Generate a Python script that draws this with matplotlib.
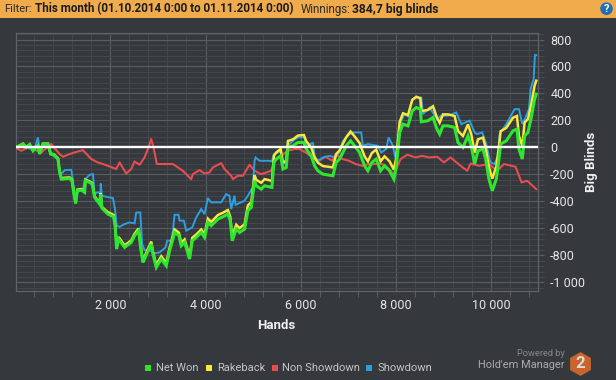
import matplotlib
matplotlib.use("Agg")
import matplotlib.pyplot as plt
from matplotlib.lines import Line2D
from matplotlib.patches import Rectangle, Circle, RegularPolygon
from matplotlib.ticker import FuncFormatter, MultipleLocator

plt.rcParams['font.family'] = ['Roboto', 'DejaVu Sans']

hands_main = [0,95,165,235,305,375,480,515,585,690,746,816,900,935,970,1145,1194,1236,1271,1306,1390,1460,1474,1565,1621,1670,1775,1796,1824,1950,2069,2104,2132,2174,2300,2440,2510,2594,2636,2685,
 2720,2790,2860,2895,2965,3070,3175,3245,3315,3350,3441,3490,3560,3665,3721,3805,3910,3980,4050,4120,4260,4365,4470,4519,4561,4645,4715,4820,4890,4960,5030,5065,5170,5241,
 5395,5437,5486,5577,5626,5696,5731,5836,5941,6067,6116,6221,6291,6361,6466,6676,6746,6816,6886,6956,7047,7131,7236,7341,7411,7495,7586,7677,7761,7866,7957,8006,8078,
 8148,8253,8344,8428,8512,8533,8673,8778,8862,8918,8988,9093,9233,9303,9408,9513,9583,9653,9723,9828,9884,9954,10024,10108,10164,10199,10318,10458,10542,10584,10654,10703,10773,10843,10913,10948]
net_won = [0,12,25,0,20,-25,12,-49,25,25,-49,-54,-86,-185,-235,-230,-247,-346,-415,-321,-316,-333,-247,-259,-272,-370,-420,-346,-450,-494,-514,-593,-753,-679,-741,-704,-654,-617,-741,-852,
 -827,-770,-716,-790,-889,-827,-877,-766,-679,-630,-654,-729,-704,-827,-692,-667,-630,-667,-556,-580,-531,-514,-494,-543,-692,-605,-630,-605,-469,-445,-247,-284,-309,-284,
 -296,-111,-86,-62,-160,-148,0,12,37,37,-12,-62,-136,-173,-198,-210,-111,-86,-37,12,49,12,-37,-136,-173,-111,-86,-173,-136,-173,-235,-148,111,
 173,160,272,296,284,190,198,222,136,99,160,160,148,37,0,86,12,-123,-25,-12,-86,-235,-321,-235,-86,25,49,123,136,-12,-86,86,111,222,358,395]
rakeback = [0,15,28,3,23,-22,15,-46,28,28,-46,-51,-80,-177,-227,-222,-239,-338,-407,-313,-308,-325,-239,-251,-264,-362,-412,-338,-442,-480,-500,-578,-738,-664,-726,-689,-639,-600,-726,-836,
 -810,-752,-698,-772,-869,-806,-856,-744,-657,-608,-632,-707,-682,-805,-670,-645,-608,-643,-528,-552,-501,-484,-464,-513,-660,-573,-598,-570,-430,-405,-205,-240,-262,-235,
 -248,-62,-37,-12,-112,-100,48,60,88,92,45,0,-76,-113,-138,-148,-48,-22,28,76,118,82,33,-66,-103,-41,-16,-103,-66,-103,-165,-78,190,
 253,240,352,376,364,270,278,305,220,183,245,245,233,122,85,171,97,-38,60,73,-1,-145,-231,-143,5,120,145,220,233,85,11,185,210,322,458,495]

hands_blue = [0,200,300,420,480,515,595,690,746,900,935,1005,1040,1180,1215,1264,1320,1425,1474,1565,1635,1670,1726,1796,1797,1824,1915,2055,2104,2132,2195,2300,2405,2510,2545,2628,2670,2719,2859,2929,3034,3160,3195,3279,3314,3349,3433,3454,3545,3594,3720,3804,3909,3980,4049,4119,4329,4434,4504,4539,4609,4630,4819,4889,4994,5030,5051,5135,5345,
 5395,5437,5577,5626,5696,5731,5836,5941,6081,6116,6256,6291,6361,6466,6606,6711,6816,6886,7026,7096,7271,7306,7411,7621,7691,7796,7845,7936,7985,8041,8111,
 8183,8253,8344,8428,8533,8568,8708,8862,8953,9093,9268,9373,9548,9653,9702,9814,9898,9982,10073,10143,10178,10318,10493,10584,10654,10724,10794,10829,10892,10920,10948]
showdown = [0,12,-8,0,74,-25,12,12,-49,-86,-185,-185,-168,-165,-247,-408,-321,-316,-235,-203,-198,-346,-333,-333,-267,-358,-366,-375,-469,-580,-588,-568,-556,-563,-482,-482,-716,-761,-766,-785,-778,-741,-691,-691,-622,-499,-499,-543,-543,-617,-593,-519,-457,-494,-375,-407,-407,-346,-358,-457,-358,-425,-395,-358,-296,-99,-74,-99,-99,
 -104,-49,-30,-123,-111,12,49,74,74,0,37,-62,-99,-74,-62,-74,-37,49,99,111,111,12,25,12,-37,-12,74,12,-74,12,198,
 247,230,358,370,370,247,296,210,235,235,259,173,198,111,99,111,25,-111,-123,-62,99,173,284,284,173,222,284,432,506,684,684]

hands_red = [0,129,269,374,549,759,934,1004,1144,1249,1424,1599,1739,1844,1949,2124,2194,2334,2439,2509,2614,2719,2789,2859,2908,2978,3104,3314,3524,3699,3734,3874,3979,4084,4154,4329,4399,4539,4574,4679,4784,4924,5029,5169,5379,5449,5589,5729,5869,5974,
 6103,6243,6383,6523,6663,6733,6873,7013,7153,7293,7433,7713,7818,7958,8098,8238,8413,8553,8693,8868,9008,9148,9358,9498,9568,9743,9953,10128,10268,10513,10639,10758,10947]
non_showdown = [0,-25,0,-12,-37,25,-49,-69,-49,-37,-20,-86,-111,-123,-136,-160,-111,-193,-160,-104,-128,-74,-12,62,0,-123,-123,-123,-173,-235,-198,-168,-193,-185,-148,-116,-160,-210,-235,-210,-210,-128,-173,-198,-173,-99,-62,-25,-12,-12,
 -37,-74,-99,-69,-99,-49,-86,-99,-123,-136,-123,-123,-148,-198,-86,-54,-74,-62,-74,-69,-111,-74,-136,-173,-119,-136,-123,-173,-123,-143,-259,-247,-309]

legend_labels = ["Net Won", "Rakeback", "Non Showdown", "Showdown"]
x_label = "Hands"
y_label = "Big Blinds"

BG = "#35383c"
GREEN, YELLOW, RED, BLUE = "#2fe62f", "#f7e83c", "#e84c50", "#2f9ee0"

W, H = 616, 380
fig = plt.figure(figsize=(W/100, H/100), dpi=100, facecolor=BG)
ax = fig.add_axes([15.5/W, 1-291/H, (537.7-15.5)/W, (291-33.3)/H], facecolor=BG)

ax.plot(hands_red, non_showdown, color=RED, lw=1.5, zorder=3, solid_joinstyle='round')
ax.plot(hands_blue, showdown, color=BLUE, lw=1.4, zorder=4, solid_joinstyle='miter')
ax.plot(hands_main, rakeback, color=YELLOW, lw=1.8, zorder=5, solid_joinstyle='miter')
ax.plot(hands_main, net_won, color=GREEN, lw=2.2, zorder=6, solid_joinstyle='miter')
ax.axhline(0, color="white", lw=1.7, zorder=7)

ax.set_xlim(8, 10978)
ax.set_ylim(-1064, 846)
ax.xaxis.set_major_locator(MultipleLocator(2000))
ax.xaxis.set_minor_locator(MultipleLocator(400))
ax.yaxis.set_major_locator(MultipleLocator(200))
ax.yaxis.set_minor_locator(MultipleLocator(40))
fmt = FuncFormatter(lambda v, p: f"{int(v):,}".replace(",", " "))
ax.xaxis.set_major_formatter(fmt)
ax.yaxis.set_major_formatter(fmt)
ax.yaxis.tick_right()
ax.grid(which='major', color="#5a5d61", lw=0.8, zorder=1)
ax.grid(which='minor', color="#43464a", lw=0.8, zorder=1)
ax.set_axisbelow(True)
ax.tick_params(axis='x', which='major', length=0, pad=6, labelsize=9, labelcolor="#e6e6e6")
ax.tick_params(axis='x', which='minor', length=4, color="#595c60", width=0.8)
ax.tick_params(axis='y', which='major', length=4, color="#595c60", width=0.8, pad=5, labelsize=9, labelcolor="#e6e6e6")
ax.tick_params(axis='y', which='minor', length=4, color="#45484c", width=0.8)
for s in ax.spines.values():
    s.set_color("#5f6266")
    s.set_linewidth(0.9)

# overlay in pixel coordinates for page furniture
ov = fig.add_axes([0, 0, 1, 1], facecolor='none')
ov.set_xlim(0, W)
ov.set_ylim(H, 0)
ov.axis('off')
ov.add_patch(Rectangle((0, 0), W, 17.5, color="#f0ac4c", lw=0))
ov.text(4.5, 9, "Filter:", fontsize=8.0, color="#2a2a2a", va='center')
ov.text(35, 9, "This month (01.10.2014 0:00 to 01.11.2014 0:00)", fontsize=8.35, fontweight='bold', color="#1c1c1c", va='center')
ov.text(301, 9, "Winnings:", fontsize=8.3, color="#2a2a2a", va='center')
ov.text(351.5, 9, "384,7 big blinds", fontsize=8.7, fontweight='bold', color="#1c1c1c", va='center')
ov.add_patch(Circle((606.5, 8.7), 6.3, color="#1f6fb5", lw=0))
ov.text(606.5, 8.7, "?", fontsize=8, fontweight='bold', color="white", ha='center', va='center')

ov.text(276, 325.5, x_label, fontsize=9.5, fontweight='bold', color="#f0f0f0", ha='center', va='center')
ov.text(592, 162, y_label, fontsize=9.5, fontweight='bold', color="#f0f0f0", ha='center', va='center', rotation=90)

for mx, tx, lab, col in zip([147.5, 208.5, 274.5, 368.5], [155.5, 217, 282, 377], legend_labels, [GREEN, YELLOW, RED, BLUE]):
    ov.add_line(Line2D([mx], [367.5], marker='s', ms=4.2, color=col, mew=0, ls='none'))
    ov.text(tx, 368, lab, fontsize=8.0, color="#c4c4c4", va='center')

ov.text(564.5, 354, "Powered by", fontsize=6.7, color="#85888b", ha='right', va='center')
ov.text(564.5, 364.5, "Hold'em Manager", fontsize=7.9, color="#a8aaad", ha='right', va='center')
ov.add_patch(RegularPolygon((580.5, 364), 6, radius=12, orientation=0, color="#c9642c", lw=0))
ov.text(580.5, 364, "2", fontsize=12, fontweight='bold', color="#e0dcd8", ha='center', va='center')

fig.savefig("out.png", dpi=100, facecolor=BG)
